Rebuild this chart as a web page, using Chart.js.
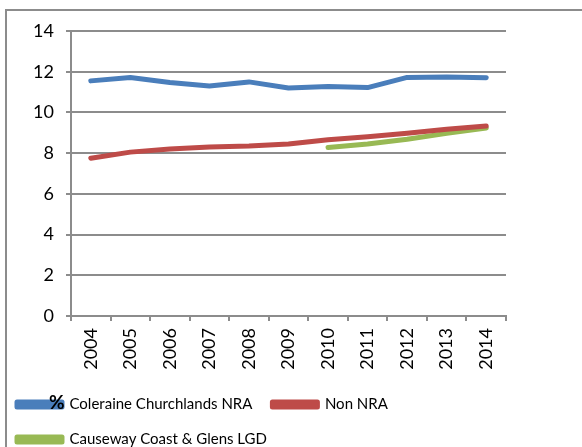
<!DOCTYPE html>
<html>
<head>
<meta charset="utf-8">
<script src="https://cdn.jsdelivr.net/npm/chart.js@4.4.1/dist/chart.umd.min.js"></script>
<style>
    html, body { margin: 0; padding: 0; background: #fff; overflow: hidden; width: 582px; height: 447px; }
    #frame { position: absolute; left: 5px; top: 9px; width: 600px; height: 460px; border: 2px solid #8c8c8c; box-sizing: border-box; }
    #wrap { position: absolute; left: -5px; top: 0; width: 587px; height: 457px; }
    #pct { position: absolute; left: 49px; top: 390px; font: bold 19px Lato, sans-serif; color: #000; }
</style>
</head>
<body>
<div id="frame"></div>
<div id="wrap"><canvas id="chart"></canvas></div>
<div id="pct">%</div>
<script>
const years = ['2004', '2005', '2006', '2007', '2008', '2009', '2010', '2011', '2012', '2013', '2014'];
const coleraine = [11.55, 11.72, 11.47, 11.3, 11.5, 11.2, 11.27, 11.22, 11.72, 11.74, 11.7];
const nonNra = [7.75, 8.05, 8.2, 8.3, 8.35, 8.45, 8.66, 8.8, 8.98, 9.17, 9.33];
const causeway = [null, null, null, null, null, null, 8.28, 8.45, 8.68, 8.97, 9.24];
const yTicks = [0, 2, 4, 6, 8, 10, 12, 14];

const gridColor = '#8c8c8c';
const tickFont = { family: 'Lato, sans-serif', size: 18 };

function lineSet(label, data, color) {
    return {
        label: label,
        data: data,
        borderColor: color,
        backgroundColor: color,
        borderWidth: 5,
        borderCapStyle: 'round',
        borderJoinStyle: 'round',
        pointRadius: 0,
        tension: 0
    };
}

new Chart(document.getElementById('chart'), {
    type: 'line',
    data: {
        labels: years,
        datasets: [
            lineSet('Coleraine Churchlands NRA', coleraine, '#4a7ebb'),
            lineSet('Non NRA', nonNra, '#be4b48'),
            lineSet('Causeway Coast & Glens LGD', causeway, '#98b954')
        ]
    },
    options: {
        responsive: true,
        maintainAspectRatio: false,
        animation: false,
        layout: { padding: { top: 31, right: 76, left: 2, bottom: 0 } },
        plugins: {
            tooltip: { enabled: false },
            legend: {
                position: 'bottom',
                align: 'start',
                labels: {
                    boxWidth: 45,
                    boxHeight: 5,
                    padding: 20,
                    color: '#000',
                    font: { family: 'Lato, sans-serif', size: 15 }
                }
            }
        },
        scales: {
            x: {
                offset: true,
                grid: { offset: true, drawOnChartArea: false, tickLength: 5, color: gridColor, lineWidth: 2 },
                border: { color: gridColor, width: 2 },
                ticks: { minRotation: 90, maxRotation: 90, padding: 7, color: '#000', font: tickFont },
                afterFit: scale => { scale.height = 61; }
            },
            y: {
                min: 0,
                max: 14,
                afterBuildTicks: scale => { scale.ticks = yTicks.map(v => ({ value: v })); },
                grid: { tickLength: 5, color: gridColor, lineWidth: 2 },
                border: { color: gridColor, width: 2 },
                ticks: { padding: 12, color: '#000', font: tickFont },
                afterFit: scale => { scale.width = 74; }
            }
        }
    }
});
</script>
</body>
</html>
